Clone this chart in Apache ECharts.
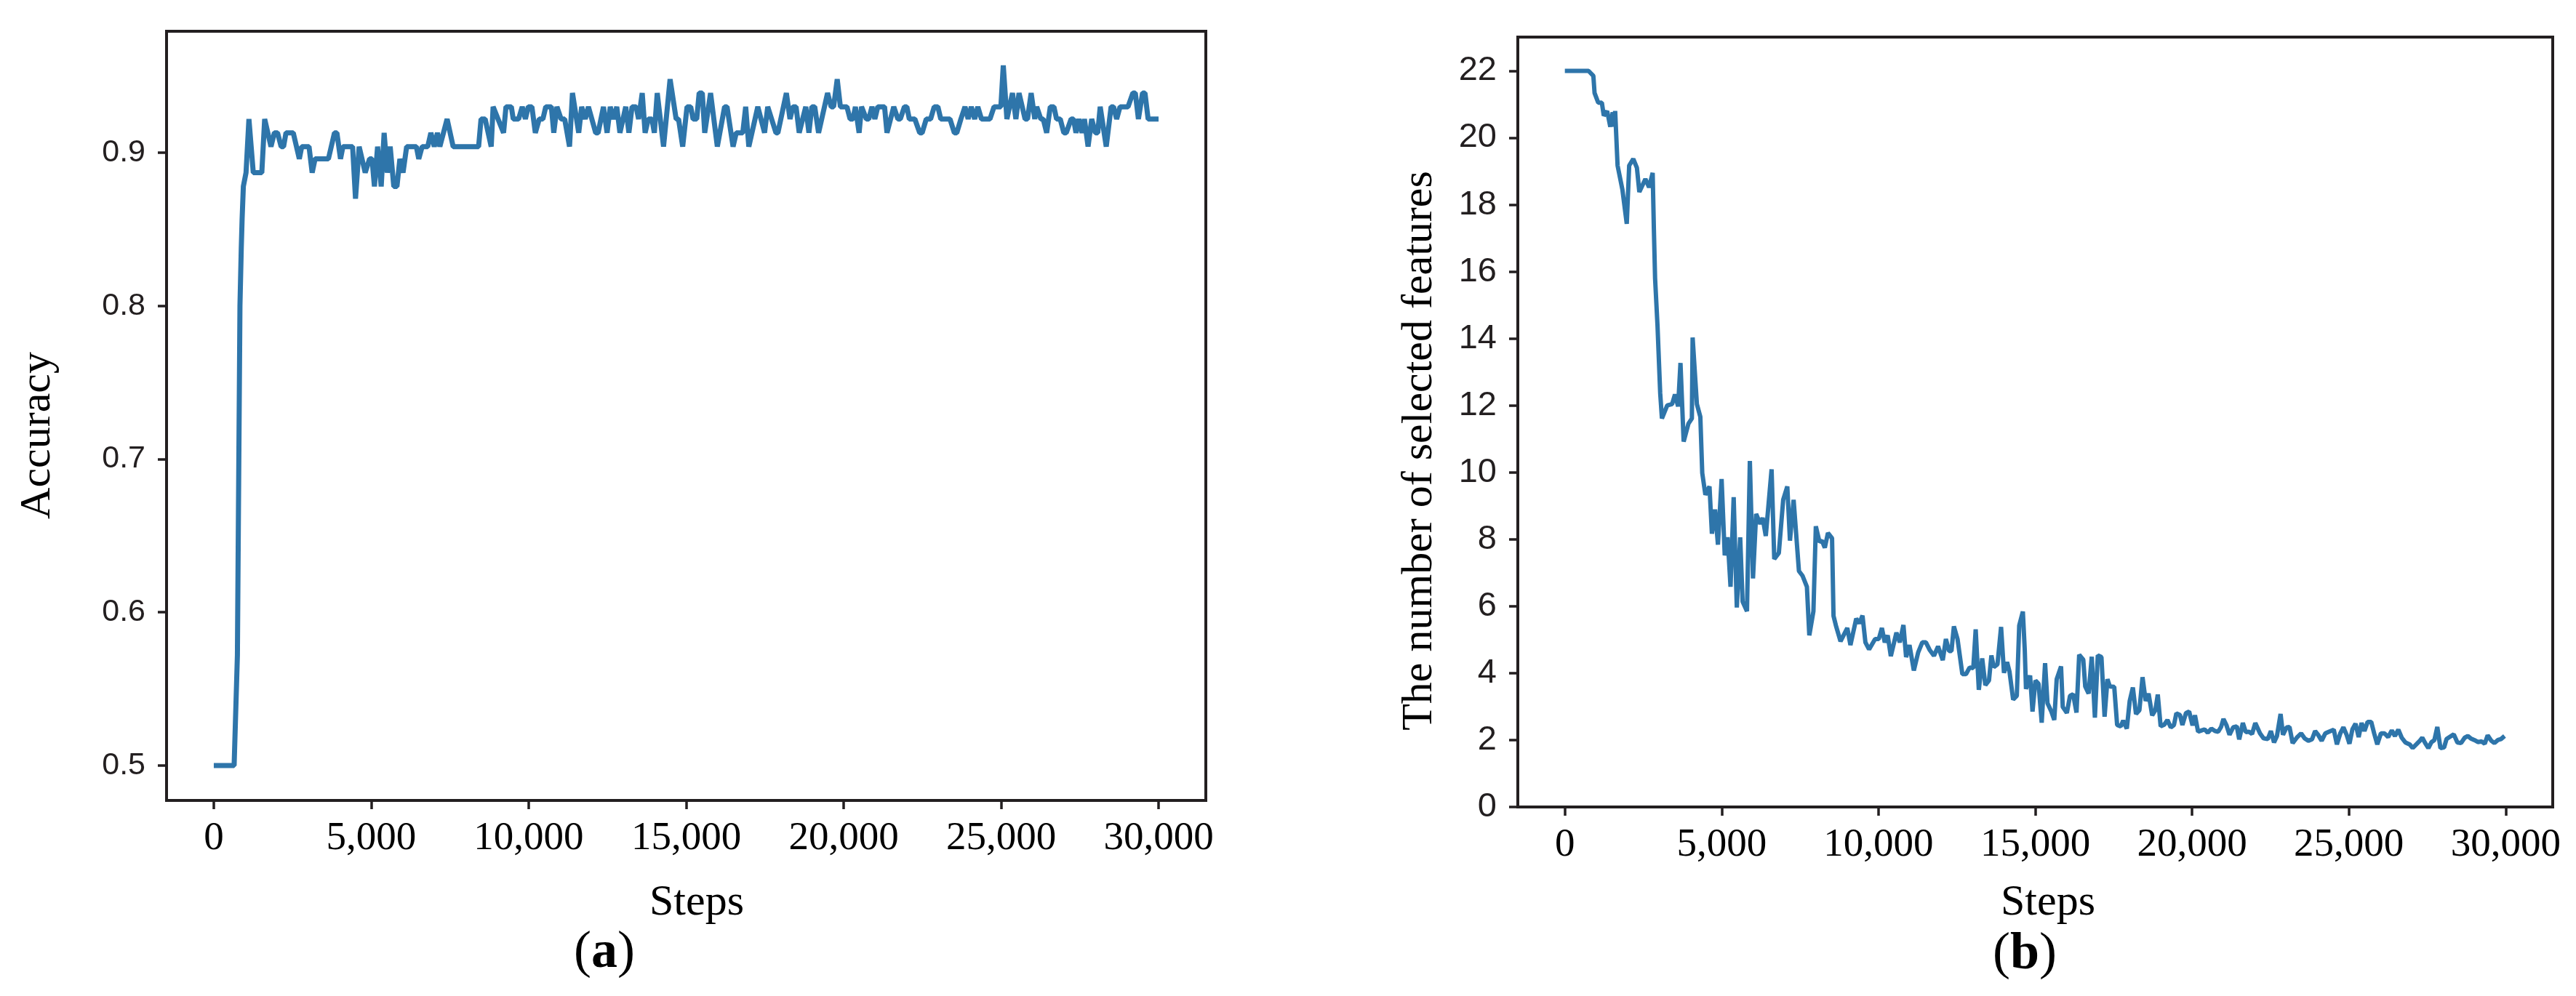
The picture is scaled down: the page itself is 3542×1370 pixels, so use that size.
<!DOCTYPE html>
<html>
<head>
<meta charset="utf-8">
<script src="https://cdn.jsdelivr.net/npm/echarts@6/dist/echarts.min.js"></script>
<style>
  html, body { margin: 0; padding: 0; background: #fff; }
  #chart { width: 3542px; height: 1370px; }
</style>
</head>
<body>
<div id="chart"></div>
<script>
// (a) accuracy over training steps
const accSteps = [0, 646, 750, 831, 873, 900, 939, 1024, 1116, 1254, 1525, 1616, 1816, 1924, 2024, 2139, 2216, 2293, 2524, 2716,
  2793, 3024, 3124, 3216, 3640, 3832, 3909, 4024, 4101, 4408, 4500, 4616, 4808, 4947, 5024, 5101, 5201, 5316, 5409, 5509,
  5601, 5716, 5816, 5909, 6009, 6124, 6432, 6509, 6616, 6793, 6893, 7001, 7101, 7178, 7409, 7601, 8409, 8486, 8617, 8809,
  8870, 9201, 9278, 9448, 9509, 9678, 9794, 9894, 9986, 10101, 10210, 10334, 10450, 10542, 10719, 10796, 10896, 11027, 11142, 11296,
  11389, 11588, 11681, 11796, 11896, 12127, 12204, 12373, 12489, 12589, 12696, 12796, 12896, 13081, 13181, 13281, 13412, 13489, 13604, 13696,
  13797, 13912, 13989, 14081, 14281, 14489, 14681, 14758, 14889, 15027, 15143, 15220, 15335, 15412, 15512, 15589, 15774, 15989, 16220, 16297,
  16489, 16589, 16797, 16889, 16989, 17274, 17489, 17589, 17851, 17912, 18181, 18297, 18389, 18489, 18589, 18797, 18897, 18989, 19081, 19204,
  19489, 19604, 19681, 19796, 19896, 20104, 20204, 20296, 20373, 20491, 20568, 20722, 20799, 20899, 20991, 21084, 21299, 21376, 21591, 21722,
  21799, 21930, 22007, 22085, 22261, 22415, 22492, 22623, 22761, 22876, 22992, 23084, 23377, 23515, 23592, 23723, 23853, 23953, 24053, 24161,
  24261, 24376, 24646, 24776, 24992, 25069, 25184, 25361, 25469, 25569, 25761, 25838, 25954, 26069, 26131, 26261, 26338, 26446, 26561, 26677,
  26761, 26877, 26992, 27069, 27223, 27300, 27377, 27469, 27569, 27646, 27761, 27876, 27992, 28069, 28146, 28338, 28492, 28569, 28669, 28776,
  29030, 29184, 29261, 29360, 29491, 29568, 29668, 30000];
const accValues = [0.5, 0.5, 0.572, 0.80, 0.838, 0.857, 0.878, 0.887, 0.922, 0.887, 0.887, 0.922, 0.904, 0.913, 0.913, 0.904, 0.904, 0.913, 0.913, 0.896,
  0.904, 0.904, 0.887, 0.896, 0.896, 0.913, 0.913, 0.896, 0.904, 0.904, 0.870, 0.904, 0.887, 0.896, 0.896, 0.878, 0.904, 0.878, 0.913, 0.887,
  0.904, 0.878, 0.878, 0.896, 0.887, 0.904, 0.904, 0.896, 0.904, 0.904, 0.913, 0.904, 0.913, 0.904, 0.922, 0.904, 0.904, 0.922, 0.922, 0.904,
  0.930, 0.913, 0.930, 0.930, 0.922, 0.922, 0.930, 0.922, 0.930, 0.930, 0.913, 0.922, 0.922, 0.930, 0.930, 0.913, 0.930, 0.922, 0.922, 0.904,
  0.939, 0.913, 0.930, 0.922, 0.930, 0.913, 0.913, 0.930, 0.913, 0.930, 0.922, 0.930, 0.913, 0.930, 0.913, 0.930, 0.930, 0.922, 0.939, 0.913,
  0.922, 0.922, 0.913, 0.939, 0.904, 0.948, 0.922, 0.922, 0.904, 0.930, 0.930, 0.922, 0.922, 0.939, 0.939, 0.913, 0.939, 0.904, 0.930, 0.930,
  0.904, 0.913, 0.913, 0.930, 0.904, 0.930, 0.913, 0.930, 0.913, 0.913, 0.939, 0.922, 0.930, 0.930, 0.913, 0.930, 0.913, 0.930, 0.930, 0.913,
  0.939, 0.930, 0.930, 0.948, 0.930, 0.930, 0.922, 0.922, 0.930, 0.913, 0.930, 0.922, 0.922, 0.930, 0.922, 0.930, 0.930, 0.913, 0.930, 0.922,
  0.922, 0.930, 0.930, 0.922, 0.922, 0.913, 0.913, 0.922, 0.922, 0.930, 0.930, 0.922, 0.922, 0.913, 0.913, 0.922, 0.930, 0.922, 0.930, 0.922,
  0.930, 0.922, 0.922, 0.930, 0.930, 0.957, 0.922, 0.939, 0.922, 0.939, 0.922, 0.922, 0.939, 0.922, 0.930, 0.922, 0.922, 0.913, 0.930, 0.930,
  0.922, 0.922, 0.913, 0.913, 0.922, 0.922, 0.913, 0.922, 0.913, 0.922, 0.904, 0.922, 0.913, 0.913, 0.930, 0.904, 0.930, 0.930, 0.922, 0.930,
  0.930, 0.939, 0.939, 0.922, 0.939, 0.939, 0.922, 0.922];

// (b) number of selected features over training steps
const featSteps = [0, 755, 909, 947, 1064, 1180, 1241, 1349, 1449, 1526, 1565, 1604, 1681, 1835, 1974, 2051, 2182, 2298, 2375, 2568,
  2684, 2800, 2838, 2877, 2954, 3040, 3095, 3264, 3419, 3511, 3611, 3687, 3788, 3942, 4050, 4074, 4210, 4320, 4381, 4481,
  4612, 4689, 4789, 4882, 4998, 5098, 5190, 5283, 5383, 5483, 5591, 5668, 5807, 5899, 5999, 6099, 6230, 6307, 6407, 6592,
  6677, 6823, 6962, 7093, 7178, 7294, 7464, 7579, 7718, 7795, 7926, 8003, 8119, 8196, 8289, 8389, 8520, 8567, 8644, 8790,
  9006, 9106, 9291, 9391, 9491, 9584, 9700, 9893, 10009, 10109, 10201, 10294, 10394, 10572, 10680, 10796, 10881, 10989, 11128, 11266,
  11397, 11513, 11629, 11770, 11900, 12050, 12150, 12251, 12328, 12405, 12521, 12675, 12791, 12907, 13023, 13100, 13200, 13308, 13408, 13524,
  13601, 13678, 13794, 13910, 14002, 14102, 14179, 14295, 14411, 14488, 14604, 14665, 14704, 14835, 14912, 15005, 15105, 15205, 15313, 15390,
  15513, 15606, 15683, 15822, 15876, 16007, 16107, 16207, 16315, 16400, 16531, 16593, 16701, 16801, 16901, 16994, 17110, 17210, 17302, 17379,
  17518, 17610, 17726, 17803, 17919, 18011, 18112, 18212, 18320, 18420, 18520, 18613, 18728, 18829, 18906, 18998, 19114, 19214, 19321, 19422,
  19499, 19614, 19692, 19807, 19907, 20015, 20092, 20192, 20308, 20400, 20501, 20616, 20732, 20832, 20924, 21001, 21094, 21194, 21310, 21426,
  21503, 21619, 21711, 21812, 21912, 22016, 22166, 22282, 22413, 22513, 22613, 22706, 22822, 22899, 23014, 23107, 23207, 23338, 23477, 23592,
  23708, 23824, 23924, 24017, 24132, 24248, 24364, 24518, 24618, 24726, 24826, 24927, 25019, 25112, 25212, 25312, 25405, 25497, 25597, 25713,
  25806, 25906, 26021, 26137, 26253, 26369, 26469, 26577, 26685, 26801, 26940, 27033, 27149, 27264, 27341, 27434, 27534, 27635, 27727, 27820,
  27920, 28036, 28113, 28229, 28345, 28460, 28576, 28692, 28792, 28885, 29001, 29116, 29232, 29332, 29425, 29541, 29641, 29749, 29849, 29965];
const featValues = [22, 22, 21.85, 21.34, 21.05, 21.05, 20.66, 20.80, 20.33, 20.76, 20.33, 20.80, 19.17, 18.45, 17.43, 19.17, 19.37, 19.10, 18.38, 18.77,
  18.52, 18.95, 17.29, 15.80, 14.39, 12.37, 11.61, 12.00, 12.04, 12.33, 11.97, 13.27, 10.92, 11.46, 11.61, 14.03, 12.04, 11.66, 9.98, 9.33,
  9.58, 8.17, 8.89, 7.84, 9.80, 7.52, 8.06, 6.58, 9.26, 5.96, 8.06, 6.14, 5.85, 10.34, 6.83, 8.76, 8.46, 8.64, 8.10, 10.09,
  7.41, 7.59, 9.18, 9.58, 7.96, 9.18, 7.05, 6.91, 6.58, 5.13, 5.85, 8.39, 7.92, 7.96, 7.75, 8.19, 8.03, 5.71, 5.42, 4.95,
  5.35, 4.84, 5.63, 5.49, 5.72, 4.92, 4.71, 5.02, 5.02, 5.35, 4.92, 5.13, 4.51, 5.21, 4.92, 5.44, 4.48, 4.84, 4.08, 4.62,
  4.92, 4.92, 4.70, 4.52, 4.80, 4.39, 5.02, 4.66, 4.66, 5.40, 5.02, 3.97, 3.97, 4.17, 4.15, 5.31, 3.50, 4.44, 3.64, 3.78,
  4.53, 4.18, 4.26, 5.38, 4.01, 4.33, 4.04, 3.21, 3.32, 5.42, 5.84, 4.69, 3.53, 3.93, 2.85, 3.78, 3.68, 2.52, 4.30, 3.10,
  2.85, 2.60, 3.82, 4.20, 2.99, 2.81, 3.32, 3.37, 2.82, 4.55, 4.40, 3.60, 3.39, 4.49, 2.67, 4.53, 4.48, 2.70, 3.82, 3.60,
  3.59, 2.45, 2.41, 2.58, 2.34, 3.17, 3.57, 2.78, 2.89, 3.88, 3.17, 3.39, 2.74, 2.89, 3.36, 2.41, 2.46, 2.60, 2.38, 2.45,
  2.80, 2.75, 2.45, 2.81, 2.85, 2.44, 2.74, 2.25, 2.29, 2.32, 2.22, 2.34, 2.27, 2.25, 2.39, 2.63, 2.45, 2.16, 2.38, 2.41,
  2.02, 2.51, 2.24, 2.25, 2.18, 2.51, 2.20, 2.05, 2.03, 2.27, 1.93, 2.12, 2.78, 2.16, 2.38, 2.39, 1.91, 2.07, 2.20, 2.05,
  1.98, 2.02, 2.27, 2.16, 1.98, 2.20, 2.25, 2.31, 1.87, 2.20, 2.38, 2.16, 1.89, 2.32, 2.49, 2.09, 2.51, 2.27, 2.54, 2.54,
  2.20, 1.87, 2.20, 2.20, 2.09, 2.29, 2.12, 2.31, 2.07, 1.93, 1.87, 1.76, 1.87, 1.98, 2.07, 1.91, 1.76, 1.94, 2.00, 2.39,
  1.76, 1.78, 2.03, 2.10, 2.17, 1.93, 1.91, 2.07, 2.12, 2.05, 2.00, 1.94, 1.96, 1.89, 2.14, 1.98, 1.91, 2.00, 2.03, 2.12];

const stepTicks = [0, 5000, 10000, 15000, 20000, 25000, 30000];
const accTicks = [0.5, 0.6, 0.7, 0.8, 0.9];
const featTicks = [0, 2, 4, 6, 8, 10, 12, 14, 16, 18, 20, 22];

const lineColor = "#2e75aa";
const inkColor = "#231f20";
const serif = "Liberation Serif";
const sans = "Liberation Sans";

let chartDom = document.getElementById("chart");
let myChart = echarts.init(chartDom, null, { renderer: "canvas" });

function withCommas(value) {
  return String(Math.round(value)).replace(/\B(?=(\d{3})+(?!\d))/g, ",");
}

function stepAxis(gridIndex) {
  return {
    type: "value",
    gridIndex: gridIndex,
    min: -1500,
    max: 31500,
    splitLine: { show: false },
    axisLine: { show: false, onZero: false },
    axisTick: {
      show: true,
      length: 12,
      customValues: stepTicks,
      lineStyle: { color: inkColor, width: 3.5 },
    },
    axisLabel: {
      customValues: stepTicks,
      formatter: withCommas,
      fontFamily: serif,
      fontSize: 55,
      color: "#000",
      margin: 25,
    },
  };
}

function valueAxis(gridIndex, min, max, ticks, fontSize) {
  return {
    type: "value",
    gridIndex: gridIndex,
    min: min,
    max: max,
    splitLine: { show: false },
    axisLine: { show: false, onZero: false },
    axisTick: {
      show: true,
      length: 12,
      customValues: ticks,
      lineStyle: { color: inkColor, width: 3.5 },
    },
    axisLabel: {
      customValues: ticks,
      fontFamily: sans,
      fontSize: fontSize,
      color: inkColor,
      margin: 29,
    },
  };
}

function label(text, x, y, size, rotate) {
  return {
    type: "text",
    x: x,
    y: y,
    rotation: rotate ? Math.PI / 2 : 0,
    style: {
      text: text,
      fontFamily: serif,
      fontSize: size,
      fill: "#000",
      align: "center",
      verticalAlign: "middle",
    },
  };
}

function panelTag(letter, x, y) {
  return {
    type: "text",
    x: x,
    y: y,
    style: {
      text: "{p|(}{b|" + letter + "}{p|)}",
      align: "center",
      verticalAlign: "middle",
      rich: {
        p: { fontFamily: serif, fontSize: 72, color: "#000" },
        b: { fontFamily: serif, fontSize: 72, fontWeight: "bold", color: "#000" },
      },
    },
  };
}

let option = {
  animation: false,
  backgroundColor: "#fff",
  grid: [
    { left: 229, top: 43, width: 1429, height: 1058, show: true, borderWidth: 4, borderColor: inkColor },
    { left: 2087, top: 51, width: 1423, height: 1059, show: true, borderWidth: 4, borderColor: inkColor },
  ],
  xAxis: [stepAxis(0), stepAxis(1)],
  yAxis: [
    valueAxis(0, 0.4772, 0.9793, accTicks, 43),
    valueAxis(1, 0, 23.01, featTicks, 47),
  ],
  series: [
    {
      type: "line",
      xAxisIndex: 0,
      yAxisIndex: 0,
      showSymbol: false,
      lineStyle: { color: lineColor, width: 7 },
      data: accSteps.map((s, i) => [s, accValues[i]]),
    },
    {
      type: "line",
      xAxisIndex: 1,
      yAxisIndex: 1,
      showSymbol: false,
      lineStyle: { color: lineColor, width: 6 },
      data: featSteps.map((s, i) => [s, featValues[i]]),
    },
  ],
  graphic: [
    label("Accuracy", 52, 599, 60, true),
    label("The number of selected features", 1952, 620, 60, true),
    label("Steps", 958, 1242, 60, false),
    label("Steps", 2816, 1242, 60, false),
    panelTag("a", 831, 1311),
    panelTag("b", 2784, 1313),
  ],
};

option && myChart.setOption(option);
</script>
</body>
</html>
